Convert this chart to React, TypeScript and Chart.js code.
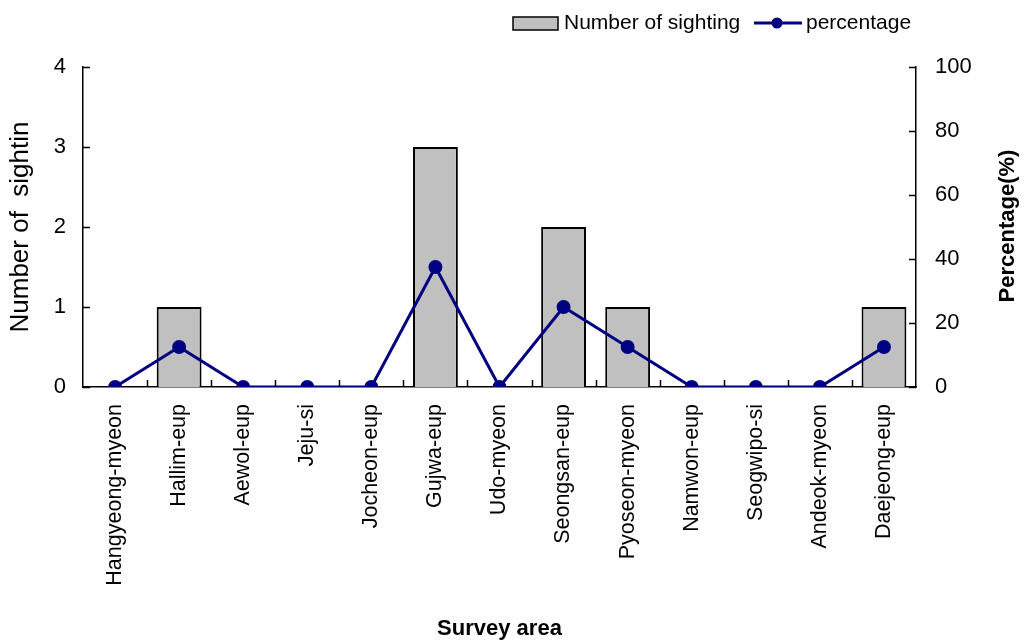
import React, { useEffect, useRef } from "react";
import { Chart, registerables } from "chart.js";

Chart.register(...registerables);

const categories = [
  "Hangyeong-myeon",
  "Hallim-eup",
  "Aewol-eup",
  "Jeju-si",
  "Jocheon-eup",
  "Gujwa-eup",
  "Udo-myeon",
  "Seongsan-eup",
  "Pyoseon-myeon",
  "Namwon-eup",
  "Seogwipo-si",
  "Andeok-myeon",
  "Daejeong-eup",
];
const sightings = [0, 1, 0, 0, 0, 3, 0, 2, 1, 0, 0, 0, 1];
const percentages = [0, 12.5, 0, 0, 0, 37.5, 0, 25, 12.5, 0, 0, 0, 12.5];
const countTicks = [0, 1, 2, 3, 4];
const percentTicks = [0, 20, 40, 60, 80, 100];

const FONT = "'Liberation Sans', Arial, sans-serif";
const NAVY = "#000080";
const BAR_FILL = "#c0c0c0";

const decorPlugin = {
  id: "decor",
  afterDraw(chart: any) {
    const { ctx, chartArea, scales } = chart;
    const x = scales.x;
    const y = scales.y;
    const y1 = scales.y1;
    ctx.save();
    ctx.strokeStyle = "#000";
    ctx.lineWidth = 1.5;
    countTicks.forEach((v) => {
      const py = Math.round(y.getPixelForValue(v)) + 0.5;
      ctx.beginPath();
      ctx.moveTo(chartArea.left, py);
      ctx.lineTo(chartArea.left + 7, py);
      ctx.stroke();
    });
    percentTicks.forEach((v) => {
      const py = Math.round(y1.getPixelForValue(v)) + 0.5;
      ctx.beginPath();
      ctx.moveTo(chartArea.right - 7, py);
      ctx.lineTo(chartArea.right, py);
      ctx.stroke();
    });
    for (let i = 1; i < categories.length; i++) {
      const px =
        Math.round((x.getPixelForValue(i - 1) + x.getPixelForValue(i)) / 2) + 0.5;
      ctx.beginPath();
      ctx.moveTo(px, chartArea.bottom);
      ctx.lineTo(px, chartArea.bottom - 7);
      ctx.stroke();
    }
    ctx.fillStyle = "#000";
    ctx.font = `bold 22px ${FONT}`;
    ctx.textAlign = "center";
    ctx.textBaseline = "middle";
    ctx.translate(1008, (chartArea.top + chartArea.bottom) / 2 - 1);
    ctx.rotate(-Math.PI / 2);
    ctx.fillText("Percentage(%)", 0, 0);
    ctx.restore();

    ctx.save();
    const ly = 23;
    ctx.fillStyle = BAR_FILL;
    ctx.fillRect(513, 17, 45, 13);
    ctx.strokeStyle = "#000";
    ctx.lineWidth = 1.5;
    ctx.strokeRect(513, 17, 45, 13);
    ctx.fillStyle = "#000";
    ctx.font = `21px ${FONT}`;
    ctx.textAlign = "left";
    ctx.textBaseline = "middle";
    ctx.fillText(chart.data.datasets[1].label, 564, ly);
    ctx.strokeStyle = NAVY;
    ctx.lineWidth = 3;
    ctx.beginPath();
    ctx.moveTo(754, ly);
    ctx.lineTo(802, ly);
    ctx.stroke();
    ctx.fillStyle = NAVY;
    ctx.beginPath();
    ctx.arc(777, ly, 5.5, 0, Math.PI * 2);
    ctx.fill();
    ctx.fillStyle = "#000";
    ctx.fillText(chart.data.datasets[0].label, 806, ly);
    ctx.restore();
  },
};

export default function App() {
  const canvasRef = useRef<HTMLCanvasElement | null>(null);

  useEffect(() => {
    if (!canvasRef.current) return;
    const chart = new Chart(canvasRef.current, {
      type: "bar",
      data: {
        labels: categories,
        datasets: [
          {
            type: "line",
            label: "percentage",
            data: percentages,
            yAxisID: "y1",
            borderColor: NAVY,
            backgroundColor: NAVY,
            borderWidth: 3,
            pointRadius: 5.5,
            pointBackgroundColor: NAVY,
            pointBorderColor: NAVY,
            tension: 0,
            order: 0,
          } as any,
          {
            type: "bar",
            label: "Number of sighting",
            data: sightings,
            yAxisID: "y",
            backgroundColor: BAR_FILL,
            borderColor: "#000",
            borderWidth: 2,
            categoryPercentage: 1,
            barPercentage: 0.7,
            order: 1,
          } as any,
        ],
      },
      options: {
        responsive: false,
        animation: false,
        layout: { padding: { top: 67, left: 0, right: 0, bottom: 0 } },
        plugins: {
          legend: { display: false },
          tooltip: { enabled: false },
        },
        scales: {
          x: {
            offset: true,
            grid: { display: false, drawTicks: false },
            border: { display: true, color: "#000", width: 1.5 },
            ticks: {
              color: "#000",
              font: { family: FONT, size: 21.5 },
              minRotation: 90,
              maxRotation: 90,
              autoSkip: false,
              padding: 17,
            },
            title: {
              display: true,
              text: "Survey area",
              color: "#000",
              font: { family: FONT, size: 22, weight: "bold" },
              padding: { top: 0, bottom: 2 },
            },
            afterFit: (s: any) => {
              s.height = 257;
            },
          },
          y: {
            position: "left",
            min: 0,
            max: 4,
            grid: { display: false, drawTicks: false },
            border: { display: true, color: "#000", width: 1.5 },
            ticks: {
              stepSize: 1,
              color: "#000",
              font: { family: FONT, size: 22 },
              padding: 17,
            },
            title: {
              display: true,
              text: "Number of  sightin",
              color: "#000",
              font: { family: FONT, size: 26 },
              padding: { top: 5, bottom: 0 },
            },
            afterFit: (s: any) => {
              s.width = 83;
            },
          },
          y1: {
            position: "right",
            min: 0,
            max: 100,
            grid: { display: false, drawTicks: false },
            border: { display: true, color: "#000", width: 1.5 },
            ticks: {
              stepSize: 20,
              color: "#000",
              font: { family: FONT, size: 22 },
              padding: 19,
            },
            afterFit: (s: any) => {
              s.width = 109;
            },
          },
        },
      },
      plugins: [decorPlugin],
    });
    return () => chart.destroy();
  }, []);

  return (
    <div
      style={{
        position: "fixed",
        left: 0,
        top: 0,
        width: 1025,
        height: 644,
        background: "#fff",
      }}
    >
      <canvas ref={canvasRef} width={1025} height={644} style={{ display: "block" }} />
    </div>
  );
}
